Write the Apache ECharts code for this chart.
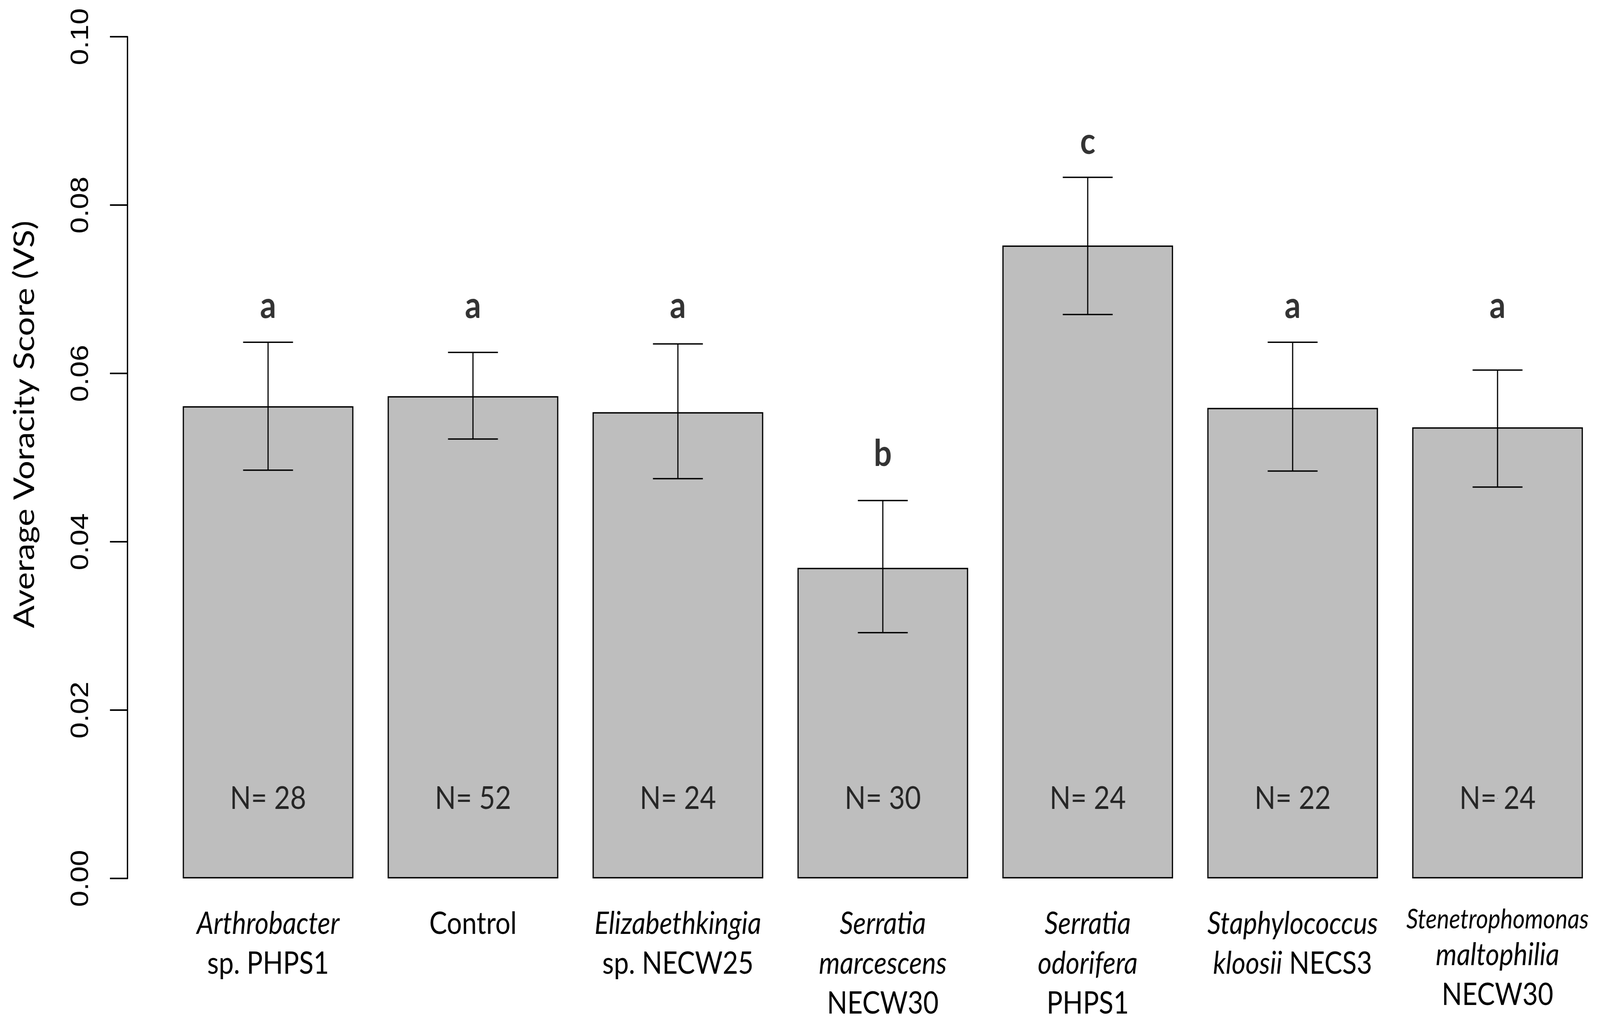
<!DOCTYPE html>
<html>
<head>
<meta charset="utf-8">
<title>Average Voracity Score</title>
<script src="https://cdn.jsdelivr.net/npm/echarts@6.0.0/dist/echarts.min.js"></script>
<style>
  html, body { margin: 0; padding: 0; background: #fff; width: 100%; height: 100%; overflow: hidden; }
  #chart { width: 4744px; height: 2614px; transform-origin: 0 0; }
</style>
</head>
<body>
<div id="chart"></div>
<script>
// data
var categories = ['Arthrobacter sp. PHPS1', 'Control', 'Elizabethkingia sp. NECW25',
    'Serratia marcescens NECW30', 'Serratia odorifera PHPS1',
    'Staphylococcus kloosii NECS3', 'Stenetrophomonas maltophilia NECW30'];
var tickLabels = [
    '{i|Arthrobacter}\n{r|sp. PHPS1}',
    '{r|Control}',
    '{i|Elizabethkingia}\n{r|sp. NECW25}',
    '{i|Serratia}\n{i|marcescens}\n{r|NECW30}',
    '{i|Serratia}\n{i|odorifera}\n{r|PHPS1}',
    '{i|Staphylococcus}\n{i|kloosii}{r| NECS3}',
    '{s|Stenetrophomonas}\n{i|maltophilia}\n{r|NECW30}'
];
var meanVS = [0.0561, 0.0573, 0.0554, 0.0369, 0.0752, 0.0559, 0.0536];
var errLow = [0.0485, 0.0522, 0.0475, 0.0292, 0.0670, 0.0484, 0.0465];
var errHigh = [0.0637, 0.0625, 0.0635, 0.0449, 0.0833, 0.0637, 0.0604];
var nCounts = [28, 52, 24, 30, 24, 22, 24];
var letters = ['a', 'a', 'a', 'b', 'c', 'a', 'a'];
var letterAt = [0.068, 0.068, 0.068, 0.0504, 0.0875, 0.068, 0.068];
var yTicks = [0, 0.02, 0.04, 0.06, 0.08, 0.10];

var nLabelAt = 0.0095;

// the figure is laid out at 4744x2614 and fitted to whatever window it gets
var dom = document.getElementById('chart');
dom.style.transform = 'scale(' + (window.innerWidth / 4744) + ',' + (window.innerHeight / 2614) + ')';
var myChart = echarts.init(dom);

var option = {
    animation: false,
    backgroundColor: '#ffffff',
    textStyle: { fontFamily: 'Lato, "Open Sans", sans-serif', color: '#000' },
    grid: { left: 491, width: 4255, top: 94, bottom: 365 },
    xAxis: {
        type: 'category',
        data: categories,
        axisLine: { show: false },
        axisTick: { show: false },
        axisLabel: {
            interval: 0,
            margin: 66,
            formatter: function (v, i) { return tickLabels[i]; },
            rich: {
                i: { fontFamily: 'Lato', fontStyle: 'italic', fontSize: 79, lineHeight: 102, color: '#000' },
                r: { fontFamily: 'Lato', fontSize: 79, lineHeight: 102, color: '#000' },
                s: { fontFamily: 'Lato', fontStyle: 'italic', fontSize: 69, lineHeight: 80, color: '#000' }
            }
        }
    },
    yAxis: {
        type: 'value',
        min: yTicks[0],
        max: yTicks[yTicks.length - 1],
        interval: 0.02,
        offset: 113,
        name: 'Average Voracity Score (VS)',
        nameLocation: 'middle',
        nameRotate: 90,
        nameGap: 262,
        nameTextStyle: { fontFamily: 'Lato', fontSize: 86, color: '#000', padding: [0, 0, 0, 170] },
        axisLine: { show: true, lineStyle: { color: '#000', width: 4 } },
        axisTick: { show: true, length: 52, lineStyle: { color: '#000', width: 4 } },
        splitLine: { show: false },
        axisLabel: {
            rotate: 90,
            margin: 100,
            fontFamily: '"Liberation Sans Narrow", "Liberation Sans", sans-serif',
            fontSize: 75,
            color: '#000',
            formatter: function (v) { return v.toFixed(2); }
        }
    },
    series: [
        {
            name: 'VS',
            type: 'bar',
            data: meanVS,
            barWidth: 506,
            itemStyle: { color: '#bebebe', borderColor: '#000', borderWidth: 3.5 },
            z: 2
        },
        {
            name: 'SE',
            type: 'custom',
            data: meanVS.map(function (m, i) { return [i, errLow[i], errHigh[i]]; }),
            renderItem: function (params, api) {
                var lo = api.coord([api.value(0), api.value(1)]);
                var hi = api.coord([api.value(0), api.value(2)]);
                var half = 74;
                var style = { stroke: '#000', lineWidth: 3.5 };
                return {
                    type: 'group',
                    children: [
                        { type: 'line', shape: { x1: lo[0], y1: lo[1], x2: hi[0], y2: hi[1] }, style: style },
                        { type: 'line', shape: { x1: hi[0] - half, y1: hi[1], x2: hi[0] + half, y2: hi[1] }, style: style },
                        { type: 'line', shape: { x1: lo[0] - half, y1: lo[1], x2: lo[0] + half, y2: lo[1] }, style: style }
                    ]
                };
            },
            z: 5
        },
        {
            name: 'letters',
            type: 'scatter',
            data: letterAt,
            symbolSize: 0,
            label: {
                show: true,
                position: 'inside',
                formatter: function (p) { return letters[p.dataIndex]; },
                fontFamily: 'Lato',
                fontWeight: 'bold',
                fontSize: 94,
                color: '#000'
            },
            z: 6
        },
        {
            name: 'N',
            type: 'scatter',
            data: nCounts.map(function () { return nLabelAt; }),
            symbolSize: 0,
            label: {
                show: true,
                position: 'inside',
                formatter: function (p) { return 'N= ' + nCounts[p.dataIndex]; },
                fontFamily: 'Lato',
                fontSize: 82,
                color: '#000'
            },
            z: 6
        }
    ]
};

myChart.setOption(option);
</script>
</body>
</html>
